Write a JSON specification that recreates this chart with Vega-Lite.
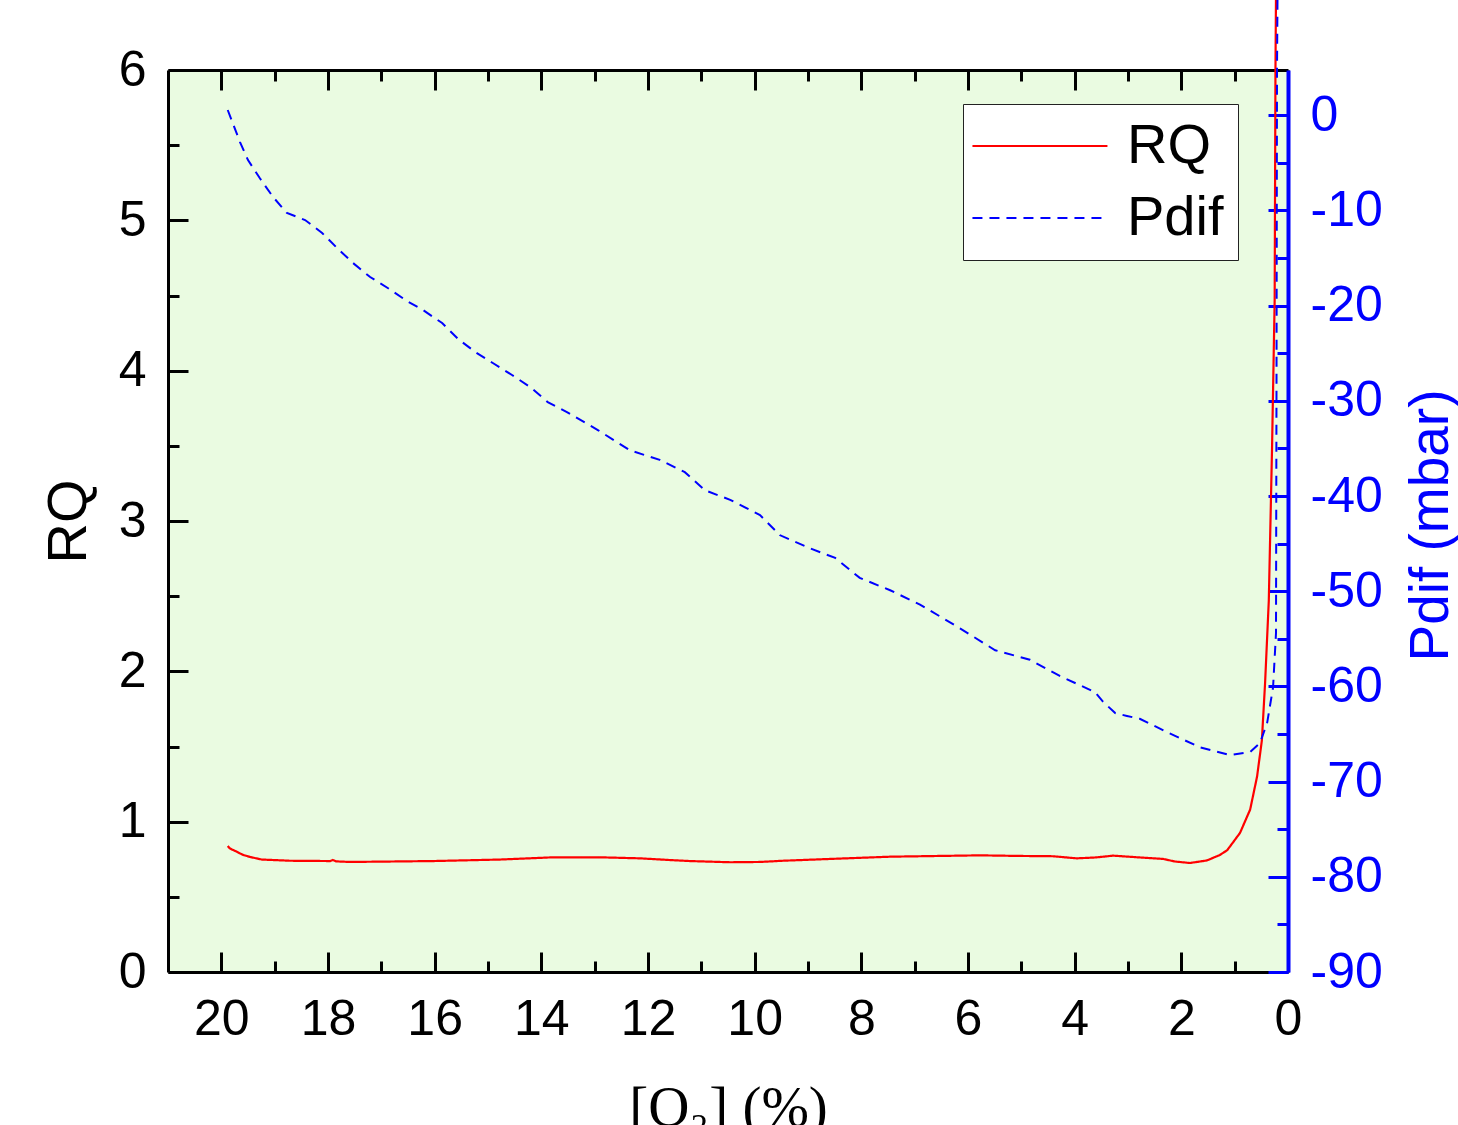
{
  "$schema": "https://vega.github.io/schema/vega-lite/v6.json",
  "width": 1120,
  "height": 902,
  "autosize": {"type": "none"},
  "padding": {"left": 168, "top": 70, "right": 170, "bottom": 153},
  "background": "white",
  "config": {
    "view": {"fill": "#eafbe1", "stroke": null},
    "axis": {
      "domainColor": "black", "domainWidth": 3, "tickColor": "black", "tickWidth": 3,
      "labelFont": "Liberation Sans", "labelFontSize": 50, "labelColor": "black",
      "titleFont": "Liberation Sans", "titleFontSize": 56, "titleFontWeight": "normal", "titleColor": "black",
      "grid": false, "labelFlush": false, "labelOverlap": false
    },
    "legend": {
      "symbolType": "M-2.17,0H6.83", "symbolSize": 900, "symbolStrokeWidth": 2,
      "labelFont": "Liberation Sans", "labelFontSize": 56, "labelColor": "black", "labelOffset": 94, "labelLimit": 400,
      "padding": 14, "rowPadding": 16, "fillColor": "white", "strokeColor": "#222"
    }
  },
  "data": {"values": [
    {"series": "RQ", "o2": 19.88, "v": 0.838},
    {"series": "RQ", "o2": 19.85, "v": 0.825},
    {"series": "RQ", "o2": 19.80, "v": 0.815},
    {"series": "RQ", "o2": 19.71, "v": 0.80},
    {"series": "RQ", "o2": 19.60, "v": 0.78},
    {"series": "RQ", "o2": 19.46, "v": 0.765},
    {"series": "RQ", "o2": 19.24, "v": 0.748},
    {"series": "RQ", "o2": 18.71, "v": 0.740},
    {"series": "RQ", "o2": 17.96, "v": 0.738},
    {"series": "RQ", "o2": 17.91, "v": 0.745},
    {"series": "RQ", "o2": 17.85, "v": 0.736},
    {"series": "RQ", "o2": 17.59, "v": 0.732},
    {"series": "RQ", "o2": 16.80, "v": 0.735},
    {"series": "RQ", "o2": 16.03, "v": 0.738},
    {"series": "RQ", "o2": 15.40, "v": 0.743},
    {"series": "RQ", "o2": 14.78, "v": 0.748},
    {"series": "RQ", "o2": 13.84, "v": 0.762},
    {"series": "RQ", "o2": 12.90, "v": 0.763},
    {"series": "RQ", "o2": 12.15, "v": 0.756},
    {"series": "RQ", "o2": 11.60, "v": 0.745},
    {"series": "RQ", "o2": 11.21, "v": 0.738},
    {"series": "RQ", "o2": 10.46, "v": 0.730},
    {"series": "RQ", "o2": 9.90, "v": 0.732},
    {"series": "RQ", "o2": 9.47, "v": 0.740},
    {"series": "RQ", "o2": 8.59, "v": 0.752},
    {"series": "RQ", "o2": 7.46, "v": 0.767},
    {"series": "RQ", "o2": 6.53, "v": 0.772},
    {"series": "RQ", "o2": 5.78, "v": 0.776},
    {"series": "RQ", "o2": 5.03, "v": 0.772},
    {"series": "RQ", "o2": 4.41, "v": 0.770},
    {"series": "RQ", "o2": 3.96, "v": 0.756},
    {"series": "RQ", "o2": 3.60, "v": 0.762},
    {"series": "RQ", "o2": 3.28, "v": 0.774},
    {"series": "RQ", "o2": 2.78, "v": 0.762},
    {"series": "RQ", "o2": 2.34, "v": 0.752},
    {"series": "RQ", "o2": 2.12, "v": 0.735},
    {"series": "RQ", "o2": 1.84, "v": 0.725},
    {"series": "RQ", "o2": 1.52, "v": 0.742},
    {"series": "RQ", "o2": 1.28, "v": 0.778},
    {"series": "RQ", "o2": 1.14, "v": 0.81},
    {"series": "RQ", "o2": 0.90, "v": 0.925},
    {"series": "RQ", "o2": 0.71, "v": 1.08},
    {"series": "RQ", "o2": 0.58, "v": 1.30},
    {"series": "RQ", "o2": 0.49, "v": 1.54},
    {"series": "RQ", "o2": 0.43, "v": 1.92},
    {"series": "RQ", "o2": 0.36, "v": 2.47},
    {"series": "RQ", "o2": 0.30, "v": 3.47},
    {"series": "RQ", "o2": 0.25, "v": 4.47},
    {"series": "RQ", "o2": 0.235, "v": 6.0},
    {"series": "RQ", "o2": 0.225, "v": 6.5},
    {"series": "Pdif", "o2": 19.88, "v": 0.55},
    {"series": "Pdif", "o2": 19.65, "v": -2.82},
    {"series": "Pdif", "o2": 19.50, "v": -4.71},
    {"series": "Pdif", "o2": 19.28, "v": -6.60},
    {"series": "Pdif", "o2": 19.03, "v": -8.59},
    {"series": "Pdif", "o2": 18.77, "v": -10.27},
    {"series": "Pdif", "o2": 18.43, "v": -11.01},
    {"series": "Pdif", "o2": 18.11, "v": -12.37},
    {"series": "Pdif", "o2": 17.83, "v": -13.95},
    {"series": "Pdif", "o2": 17.53, "v": -15.53},
    {"series": "Pdif", "o2": 17.21, "v": -17.0},
    {"series": "Pdif", "o2": 16.88, "v": -18.15},
    {"series": "Pdif", "o2": 16.52, "v": -19.52},
    {"series": "Pdif", "o2": 16.22, "v": -20.46},
    {"series": "Pdif", "o2": 15.86, "v": -21.83},
    {"series": "Pdif", "o2": 15.56, "v": -23.51},
    {"series": "Pdif", "o2": 15.24, "v": -24.87},
    {"series": "Pdif", "o2": 14.91, "v": -26.03},
    {"series": "Pdif", "o2": 14.55, "v": -27.29},
    {"series": "Pdif", "o2": 14.21, "v": -28.55},
    {"series": "Pdif", "o2": 13.88, "v": -30.13},
    {"series": "Pdif", "o2": 13.52, "v": -31.18},
    {"series": "Pdif", "o2": 12.94, "v": -33.07},
    {"series": "Pdif", "o2": 12.34, "v": -35.2},
    {"series": "Pdif", "o2": 11.78, "v": -36.2},
    {"series": "Pdif", "o2": 11.31, "v": -37.5},
    {"series": "Pdif", "o2": 10.93, "v": -39.4},
    {"series": "Pdif", "o2": 10.46, "v": -40.4},
    {"series": "Pdif", "o2": 9.90, "v": -42.0},
    {"series": "Pdif", "o2": 9.53, "v": -44.1},
    {"series": "Pdif", "o2": 8.96, "v": -45.5},
    {"series": "Pdif", "o2": 8.49, "v": -46.5},
    {"series": "Pdif", "o2": 8.03, "v": -48.6},
    {"series": "Pdif", "o2": 7.46, "v": -49.9},
    {"series": "Pdif", "o2": 6.90, "v": -51.4},
    {"series": "Pdif", "o2": 6.15, "v": -53.9},
    {"series": "Pdif", "o2": 5.49, "v": -56.2},
    {"series": "Pdif", "o2": 4.84, "v": -57.2},
    {"series": "Pdif", "o2": 4.28, "v": -58.9},
    {"series": "Pdif", "o2": 3.62, "v": -60.6},
    {"series": "Pdif", "o2": 3.47, "v": -61.6},
    {"series": "Pdif", "o2": 3.24, "v": -62.8},
    {"series": "Pdif", "o2": 3.02, "v": -63.1},
    {"series": "Pdif", "o2": 2.78, "v": -63.4},
    {"series": "Pdif", "o2": 2.27, "v": -64.8},
    {"series": "Pdif", "o2": 1.65, "v": -66.4},
    {"series": "Pdif", "o2": 1.09, "v": -67.2},
    {"series": "Pdif", "o2": 0.71, "v": -66.9},
    {"series": "Pdif", "o2": 0.525, "v": -65.95},
    {"series": "Pdif", "o2": 0.39, "v": -63.8},
    {"series": "Pdif", "o2": 0.28, "v": -60.1},
    {"series": "Pdif", "o2": 0.225, "v": -54.4},
    {"series": "Pdif", "o2": 0.216, "v": -29.9},
    {"series": "Pdif", "o2": 0.206, "v": 4.75},
    {"series": "Pdif", "o2": 0.197, "v": 12.1}
  ]},
  "layer": [
    {
      "transform": [{"filter": "datum.series === 'RQ'"}],
      "layer": [
        {
          "mark": {"type": "line", "clip": false, "strokeWidth": 2.2},
          "encoding": {
            "x": {"field": "o2", "type": "quantitative",
              "scale": {"domain": [0, 21], "reverse": true, "nice": false, "zero": false},
              "axis": {"orient": "bottom", "values": [0, 2, 4, 6, 8, 10, 12, 14, 16, 18, 20], "tickSize": -20, "labelPadding": 42,
                "title": "[O₂] (%)", "titleFont": "Liberation Serif", "titleFontSize": 57,
                "titleX": 560, "titleY": 153, "titleAlign": "center", "titleBaseline": "alphabetic", "titleAngle": 0}},
            "y": {"field": "v", "type": "quantitative",
              "scale": {"domain": [0, 6], "nice": false, "zero": false},
              "axis": {"orient": "left", "values": [0, 1, 2, 3, 4, 5, 6], "tickSize": -20, "labelPadding": 42,
                "title": "RQ", "titleAngle": 270, "titleX": -100, "titleY": 451, "titleAlign": "center", "titleBaseline": "middle"}},
            "color": {"field": "series", "type": "nominal",
              "scale": {"domain": ["RQ", "Pdif"], "range": ["#ff0000", "#0000ff"]},
              "legend": {"orient": "none", "legendX": 795, "legendY": 34, "title": null}},
            "strokeDash": {"field": "series", "type": "nominal",
              "scale": {"domain": ["RQ", "Pdif"], "range": [[1, 0], [10, 7]]},
              "legend": {"orient": "none", "legendX": 795, "legendY": 34, "title": null}}
          }
        },
        {
          "mark": {"type": "line", "strokeOpacity": 0},
          "encoding": {
            "x": {"field": "o2", "type": "quantitative",
              "axis": {"orient": "bottom", "values": [1, 3, 5, 7, 9, 11, 13, 15, 17, 19], "tickSize": -11, "labels": false, "domain": false, "title": null}},
            "y": {"field": "v", "type": "quantitative",
              "axis": {"orient": "left", "values": [0.5, 1.5, 2.5, 3.5, 4.5, 5.5], "tickSize": -11, "labels": false, "domain": false, "title": null}}
          }
        },
        {
          "mark": {"type": "line", "strokeOpacity": 0},
          "encoding": {
            "x": {"field": "o2", "type": "quantitative",
              "axis": {"orient": "top", "values": [0, 2, 4, 6, 8, 10, 12, 14, 16, 18, 20], "tickSize": -20, "labels": false, "title": null}},
            "y": {"field": "v", "type": "quantitative", "axis": null}
          }
        },
        {
          "mark": {"type": "line", "strokeOpacity": 0},
          "encoding": {
            "x": {"field": "o2", "type": "quantitative",
              "axis": {"orient": "top", "values": [1, 3, 5, 7, 9, 11, 13, 15, 17, 19], "tickSize": -11, "labels": false, "domain": false, "title": null}},
            "y": {"field": "v", "type": "quantitative", "axis": null}
          }
        }
      ],
      "resolve": {"axis": {"x": "independent", "y": "independent"}}
    },
    {
      "transform": [{"filter": "datum.series === 'Pdif'"}],
      "layer": [
        {
          "mark": {"type": "line", "clip": false, "strokeWidth": 2},
          "encoding": {
            "x": {"field": "o2", "type": "quantitative", "axis": null},
            "y": {"field": "v", "type": "quantitative",
              "scale": {"domain": [-90, 4.75], "nice": false, "zero": false},
              "axis": {"orient": "right", "values": [-90, -80, -70, -60, -50, -40, -30, -20, -10, 0], "tickSize": -20, "labelPadding": 42,
                "labelExpr": "replace(datum.label, '−', '-')",
                "domainColor": "#0000ff", "domainWidth": 4, "tickColor": "#0000ff", "labelColor": "#0000ff", "titleColor": "#0000ff",
                "title": "Pdif (mbar)", "titleFontSize": 55, "titleAngle": 270, "titleX": 142, "titleY": 455, "titleAlign": "center", "titleBaseline": "middle"}},
            "color": {"field": "series", "type": "nominal",
              "scale": {"domain": ["RQ", "Pdif"], "range": ["#ff0000", "#0000ff"]},
              "legend": {"orient": "none", "legendX": 795, "legendY": 34, "title": null}},
            "strokeDash": {"field": "series", "type": "nominal",
              "scale": {"domain": ["RQ", "Pdif"], "range": [[1, 0], [10, 7]]},
              "legend": {"orient": "none", "legendX": 795, "legendY": 34, "title": null}}
          }
        },
        {
          "mark": {"type": "line", "strokeOpacity": 0},
          "encoding": {
            "x": {"field": "o2", "type": "quantitative", "axis": null},
            "y": {"field": "v", "type": "quantitative",
              "axis": {"orient": "right", "values": [-85, -75, -65, -55, -45, -35, -25, -15, -5], "tickSize": -11, "labels": false, "domain": false,
                "tickColor": "#0000ff", "title": null}}
          }
        }
      ],
      "resolve": {"axis": {"x": "independent", "y": "independent"}}
    }
  ],
  "resolve": {"scale": {"y": "independent"}, "axis": {"x": "independent", "y": "independent"}}
}
